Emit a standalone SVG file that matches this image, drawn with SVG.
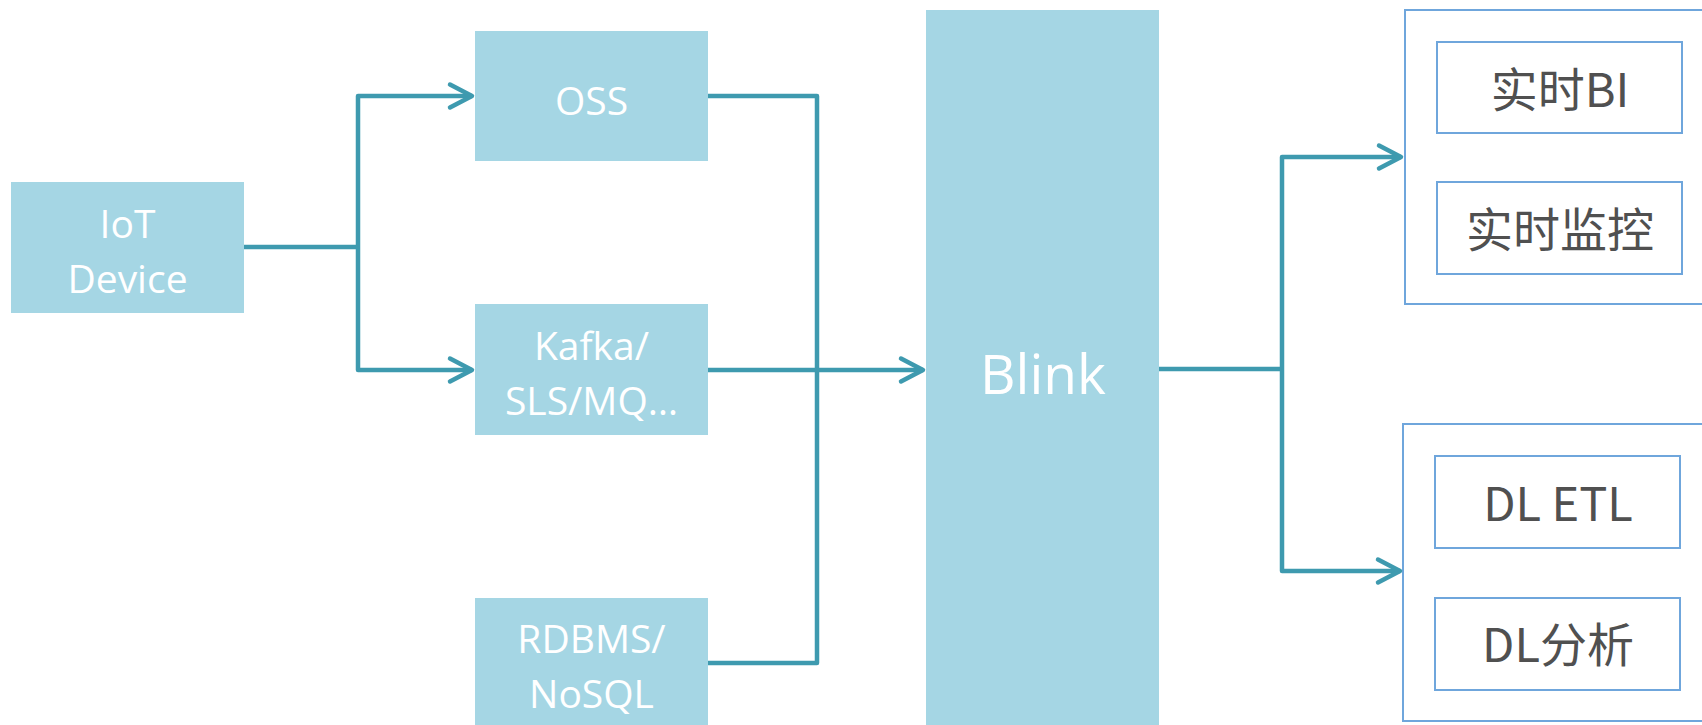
<svg xmlns="http://www.w3.org/2000/svg" width="1702" height="725" viewBox="0 0 1702 725">
<style>
.box{fill:#A5D6E4}
.wt{fill:#FFFFFF;font-family:"Open Sans","Noto Sans",sans-serif;text-anchor:middle}
.grp{fill:#FFFFFF;stroke:#6FA6DC;stroke-width:2}
.dt{fill:#505050;font-family:"Noto Sans CJK SC","Noto Sans",sans-serif;font-size:47px;text-anchor:middle}
.ln{fill:none;stroke:#3E9AAF;stroke-width:4.5;stroke-linejoin:round}
</style>
<defs>
<marker id="arr" markerUnits="userSpaceOnUse" viewBox="-26 -15 30 30" refX="0" refY="0" markerWidth="30" markerHeight="30" orient="auto-start-reverse">
<path d="M-22,-11.5 L0,0 L-22,11.5" fill="none" stroke="#3E9AAF" stroke-width="4.5" stroke-linecap="round" stroke-linejoin="round"/>
</marker>
</defs>
<rect width="1702" height="725" fill="#FFFFFF"/>
<g id="iot"><rect class="box" x="11" y="182" width="233" height="131"/>
<text class="wt" font-size="39" x="127.5" y="238">IoT</text><text class="wt" font-size="39" x="127.5" y="293">Device</text></g>
<g id="oss"><rect class="box" x="475" y="31" width="233" height="130"/>
<text class="wt" font-size="39" x="591.5" y="115">OSS</text></g>
<g id="kafka"><rect class="box" x="475" y="304" width="233" height="131"/>
<text class="wt" font-size="39" x="591.5" y="360">Kafka/</text><text class="wt" font-size="39" x="591.5" y="415">SLS/MQ…</text></g>
<g id="rdbms"><rect class="box" x="475" y="598" width="233" height="130"/>
<text class="wt" font-size="39" x="591.5" y="653">RDBMS/</text><text class="wt" font-size="39" x="591.5" y="708">NoSQL</text></g>
<g id="blink"><rect class="box" x="926" y="10" width="233" height="718"/>
<text class="wt" font-size="55" x="1043" y="394">Blink</text></g>
<g id="realtime"><rect class="grp" x="1405" y="10" width="305" height="294"/>
<g id="bi"><rect class="grp" x="1437" y="42" width="245" height="91"/><text class="dt" x="1560" y="107">实时BI</text></g>
<g id="monitor"><rect class="grp" x="1437" y="182" width="245" height="92"/><text class="dt" x="1560" y="247">实时监控</text></g>
</g>
<g id="dl"><rect class="grp" x="1403" y="424" width="307" height="297"/>
<g id="etl"><rect class="grp" x="1435" y="456" width="245" height="92"/><text class="dt" x="1558" y="521">DL ETL</text></g>
<g id="analysis"><rect class="grp" x="1435" y="598" width="245" height="92"/><text class="dt" x="1558" y="662">DL分析</text></g>
</g>
<g id="connectors">
<polyline class="ln" points="244,247 358,247"/>
<polyline class="ln" points="472,96 358,96 358,370 472,370" marker-start="url(#arr)" marker-end="url(#arr)"/>
<polyline class="ln" points="708,96 817,96 817,663 708,663"/>
<polyline class="ln" points="708,370 923,370" marker-end="url(#arr)"/>
<polyline class="ln" points="1159,369 1282,369"/>
<polyline class="ln" points="1401,157 1282,157 1282,571 1400,571" marker-start="url(#arr)" marker-end="url(#arr)"/>
</g>
</svg>
